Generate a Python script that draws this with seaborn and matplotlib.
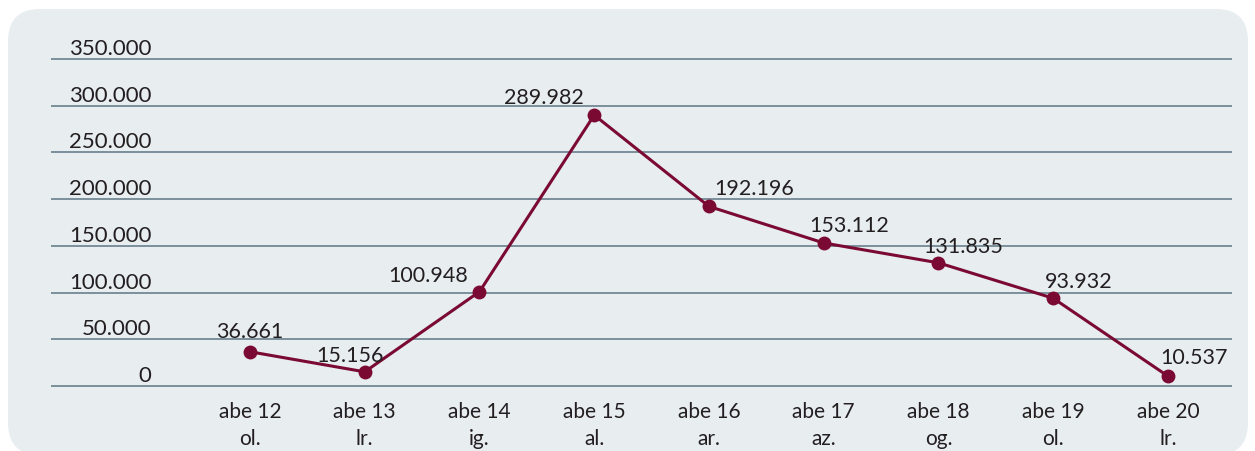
import matplotlib
matplotlib.use("Agg")
import matplotlib.pyplot as plt
import seaborn as sns
import pandas as pd
from matplotlib.patches import FancyBboxPatch
from matplotlib.transforms import offset_copy

categories = ["abe 12\nol.", "abe 13\nlr.", "abe 14\nig.", "abe 15\nal.", "abe 16\nar.",
              "abe 17\naz.", "abe 18\nog.", "abe 19\nol.", "abe 20\nlr."]
values = [36661, 15156, 100948, 289982, 192196, 153112, 131835, 93932, 10537]
yticks = [0, 50000, 100000, 150000, 200000, 250000, 300000, 350000]
ytick_labels = ["0", "50.000", "100.000", "150.000", "200.000", "250.000", "300.000", "350.000"]
# label offsets in pixels: horizontal shift of centre, baseline height above point
label_dx = [0, -15, -51, -50, 45, 25, 25, 25, 26]
label_up = [15, 11, 11, 12, 12, 12, 11, 11, 13]

sns.set_theme(style="white")
plt.rcParams["font.family"] = ["Lato", "DejaVu Sans"]
text_color = "#231f20"

W, H = 1255, 452
fig = plt.figure(figsize=(W / 100, H / 100), dpi=100)
fig.patch.set_facecolor("white")

# background panel (pixel-unit axes)
bg = fig.add_axes([0, 0, 1, 1], zorder=-5)
bg.set_xlim(0, W)
bg.set_ylim(H, 0)
bg.axis("off")
r = 32
bg.add_patch(FancyBboxPatch((8 + r, 10 + r), (1248 - 8) - 2 * r, (456 - 10) - 2 * r,
                            boxstyle=f"round,pad={r}", facecolor="#e8edf0",
                            edgecolor="none"))

ppu = 327 / 350000.0
ext = 3000
ax_bottom_px = 387 + ext * ppu
ax_top_px = 60 - ext * ppu
ax = fig.add_axes([51 / W, (H - ax_bottom_px) / H, (1232 - 51) / W, (ax_bottom_px - ax_top_px) / H], zorder=1)
ax.set_facecolor("none")

df = pd.DataFrame({"x": range(len(values)), "y": values})
line_color = "#7b0a32"
sns.lineplot(data=df, x="x", y="y", ax=ax, color=line_color, linewidth=2.2,
             marker="o", markersize=10, markeredgewidth=0, clip_on=False, zorder=3)

ax.set_xlim(-1.734, 8.558)
ax.set_ylim(-ext, 350000 + ext)

for yt in yticks:
    ax.axhline(yt, color="#7b909a", linewidth=1.4, zorder=1)

ax.set_yticks(yticks)
ax.set_yticklabels(ytick_labels)
ax.tick_params(axis="y", length=0, pad=-72.5, labelsize=16, labelcolor=text_color)
for lab in ax.get_yticklabels():
    lab.set_verticalalignment("baseline")
    lab.set_transform(offset_copy(lab.get_transform(), fig=fig, x=0, y=5, units="dots"))

ax.set_xticks(range(len(categories)))
ax.set_xticklabels(categories, linespacing=1.39)
ax.tick_params(axis="x", length=0, pad=9, labelsize=15, labelcolor=text_color)

ax.set_xlabel("")
ax.set_ylabel("")
for s in ax.spines.values():
    s.set_visible(False)

for i, v in enumerate(values):
    ax.annotate(f"{v:,}".replace(",", "."), xy=(i, v), xytext=(label_dx[i], label_up[i]),
                textcoords="offset pixels", ha="center", va="baseline",
                fontsize=15.5, color=text_color, zorder=4)

fig.savefig("out.png", dpi=100)
